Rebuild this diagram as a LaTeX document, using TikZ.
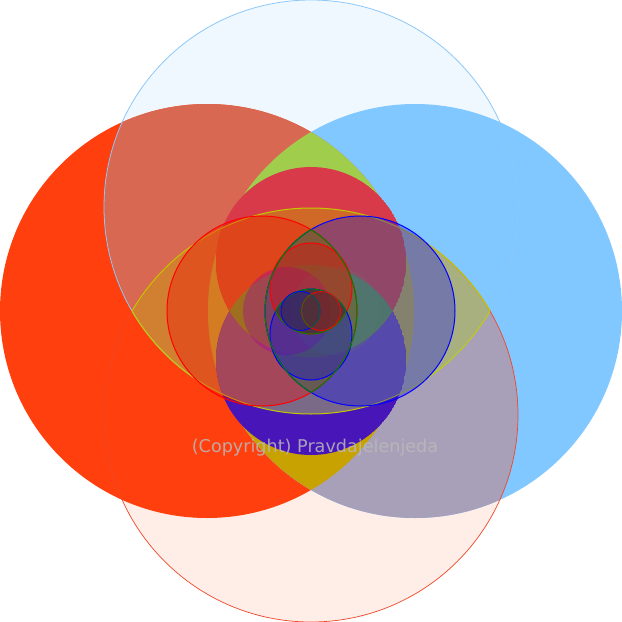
\documentclass[tikz,border=0pt]{standalone}
\usepackage{fontspec}
\newfontfamily\djv{DejaVu Sans}
\definecolor{cTop}{RGB}{240,248,255}
\definecolor{cBot}{RGB}{255,238,232}
\definecolor{cLeft}{RGB}{255,64,14}
\definecolor{cRight}{RGB}{128,200,255}
\definecolor{cTL}{RGB}{216,104,82}
\definecolor{cBR}{RGB}{168,160,184}
\definecolor{cGreen}{RGB}{160,206,76}
\definecolor{cGold}{RGB}{200,162,0}
\definecolor{lensL}{RGB}{208,128,48}
\definecolor{lensR}{RGB}{168,176,128}
\definecolor{lensX}{RGB}{190,185,50}
\definecolor{tOut}{RGB}{216,58,74}
\definecolor{tIn}{RGB}{208,104,40}
\definecolor{bOut}{RGB}{72,22,184}
\definecolor{bIn}{RGB}{122,106,136}
\definecolor{qCol}{RGB}{113,167,48}
\definecolor{sTop}{RGB}{140,200,250}
\definecolor{sBot}{RGB}{240,70,40}
\definecolor{sLens}{RGB}{196,200,0}
\definecolor{gLens}{RGB}{86,151,2}
\definecolor{gLensDark}{RGB}{60,62,36}
\definecolor{sGreen}{RGB}{0,128,0}
\definecolor{ghostA}{RGB}{160,0,160}
\definecolor{ghostB}{RGB}{90,120,110}
\definecolor{copyGray}{RGB}{185,185,185}
\def\cTa{(311,207) circle (207pt)}
\def\cBa{(311,415) circle (207pt)}
\def\cLa{(207,311) circle (207pt)}
\def\cRa{(415,311) circle (207pt)}
\def\cTb{(311,262) circle (95pt)}
\def\cBb{(311,360) circle (95pt)}
\def\cLb{(262,311) circle (95pt)}
\def\cRb{(360,311) circle (95pt)}
\def\cTc{(311,288.5) ellipse [x radius=41pt, y radius=45.5pt]}
\def\cBc{(311,334.5) ellipse [x radius=41pt, y radius=45.5pt]}
\def\cLc{(287,311) circle (44pt)}
\def\cRc{(335,311) circle (44pt)}
\def\cLd{(300.5,311) circle (19.5pt)}
\def\cRd{(321,311) circle (19.5pt)}
\tikzset{
  redov/.style={fill=red, fill opacity=0.33},
  blueov/.style={fill=blue, fill opacity=0.3},
  greenov/.style={fill=gLens, fill opacity=0.4},
  darkgreenov/.style={fill=gLensDark, fill opacity=0.7},
  redline/.style={draw=red, line width=1pt},
  blueline/.style={draw=blue, line width=1pt},
  greenline/.style={draw=sGreen, line width=1pt}
}
\begin{document}
\begin{tikzpicture}[x=1pt,y=-1pt]
\useasboundingbox (0,0) rectangle (622,622);
\fill[white] (0,0) rectangle (622,622);
% ---------- level 1 ----------
\fill[cTop] \cTa;
\fill[cBot] \cBa;
\fill[cLeft] \cLa;
\fill[cRight] \cRa;
\begin{scope}\clip \cTa; \fill[cTL] \cLa; \end{scope}
\begin{scope}\clip \cBa; \fill[cBR] \cRa; \end{scope}
\begin{scope}\clip \cLa; \clip \cRa; \fill[cGold] \cBa; \fill[cGreen] \cTa; \end{scope}
\begin{scope}\clip \cTa; \clip \cBa;
  \fill[lensL] \cLa; \fill[lensR] \cRa;
  \clip \cLa; \fill[lensX] \cRa;
\end{scope}
\draw[sTop, line width=0.8pt] \cTa;
\draw[sBot, line width=0.7pt] \cBa;
% ---------- level 2 ----------
\begin{scope}\clip \cBb; \fill[bOut] \cBb;
  \clip \cTa; \clip \cBa; \fill[bIn] \cBb; \end{scope}
\begin{scope}\clip \cTb; \fill[tOut] \cTb;
  \clip \cTa; \clip \cBa; \fill[tIn] \cTb; \end{scope}
\begin{scope}\clip \cTb; \fill[qCol] \cBb; \end{scope}
\begin{scope}\clip \cTa; \draw[sLens, line width=1pt] \cBa; \end{scope}
\begin{scope}\clip \cBa; \draw[sLens, line width=1pt] \cTa; \end{scope}
\path[redov] \cLb;
\path[blueov] \cRb;
\begin{scope}\clip \cLb; \path[greenov] \cRb; \end{scope}
% ---------- level 3 ----------
\path[fill=ghostA, fill opacity=0.37] \cLc;
\path[fill=ghostB, fill opacity=0.2] \cRc;
\path[redov] \cTc;
\path[blueov] \cBc;
\begin{scope}\clip \cTc; \path[darkgreenov] \cBc; \end{scope}
% ---------- level 4 ----------
\path[fill=blue, fill opacity=0.2] \cLd;
\path[fill=red, fill opacity=0.2] \cRd;
\begin{scope}\clip \cLd; \path[fill=gLensDark, fill opacity=0.5] \cRd; \end{scope}
% ---------- strokes ----------
\path[redline] \cLb;
\path[blueline] \cRb;
\path[redline] \cTc;
\path[blueline] \cBc;
\begin{scope}\clip \cLb; \path[greenline] \cRb; \end{scope}
\begin{scope}\clip \cRb; \path[greenline] \cLb; \end{scope}
\begin{scope}\clip \cTc; \path[greenline] \cBc; \end{scope}
\begin{scope}\clip \cBc; \path[greenline] \cTc; \end{scope}
\path[blueline, line width=0.8pt] \cLd;
\path[redline, line width=0.8pt] \cRd;
\begin{scope}\clip \cLd; \path[greenline, line width=0.6pt] \cRd; \end{scope}
\begin{scope}\clip \cRd; \path[greenline, line width=0.6pt] \cLd; \end{scope}
% ---------- text ----------
\node[font=\djv\fontsize{17.6}{20}\selectfont, text=copyGray, text opacity=0.85, anchor=base, inner sep=0pt] (copy) at (315,452) {(Copyright) Pravdajelenjeda};
\end{tikzpicture}
\end{document}
